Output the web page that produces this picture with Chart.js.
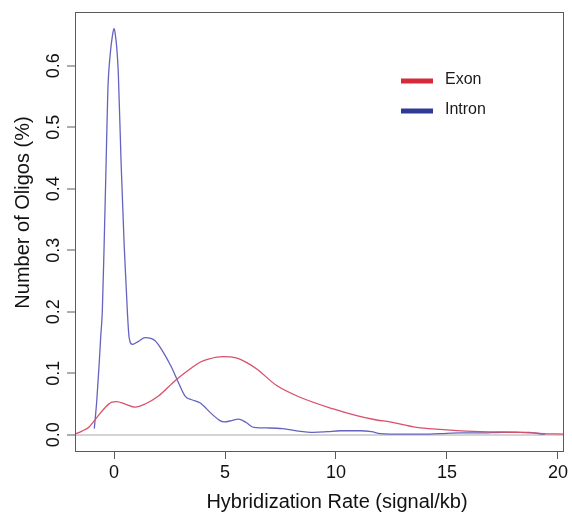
<!DOCTYPE html>
<html>
<head>
<meta charset="utf-8">
<script src="https://cdn.jsdelivr.net/npm/chart.js@4/dist/chart.umd.min.js"></script>
<style>
  html, body { margin: 0; padding: 0; background: #ffffff; }
  #wrap { width: 572px; height: 512px; position: relative; }
</style>
</head>
<body>
<div id="wrap"><canvas id="c" width="572" height="512"></canvas></div>
<script>
// ---- data ----
const seriesNames = ["Exon", "Intron"];

const exonX = [-1.76, -1.45, -1.15, -0.78, -0.41, -0.1, 0.12, 0.5, 0.95, 1.4, 2.0, 2.75, 3.5, 3.87, 4.25, 4.9, 5.5, 6.0, 6.43, 7.33, 8.38, 9.88, 10.93, 11.83, 12.43, 13.63, 15.0, 16.5, 18.3, 19.3, 20.23];
const exonY = [0.001, 0.006, 0.012, 0.028, 0.044, 0.053, 0.054, 0.050, 0.045, 0.050, 0.063, 0.088, 0.109, 0.118, 0.123, 0.127, 0.125, 0.117, 0.107, 0.080, 0.061, 0.042, 0.031, 0.024, 0.021, 0.012, 0.008, 0.005, 0.004, 0.002, 0.001];

const intronX = [-0.89, -0.78, -0.68, -0.6, -0.53, -0.45, -0.36, -0.28, -0.17, -0.07, 0, 0.06, 0.12, 0.19, 0.32, 0.46, 0.6, 0.68, 0.83, 1.1, 1.4, 1.85, 2.22, 2.6, 2.9, 3.2, 3.5, 3.87, 4.4, 4.77, 4.95, 5.3, 5.6, 5.95, 6.3, 7.0, 7.6, 8.3, 9.0, 9.6, 10.2, 11.1, 11.6, 12.0, 13.0, 13.8, 14.7, 15.6, 16.5, 17.5, 18.7, 19.3, 19.42];
const intronY = [0.010, 0.055, 0.110, 0.160, 0.200, 0.305, 0.439, 0.560, 0.620, 0.650, 0.661, 0.650, 0.630, 0.590, 0.439, 0.305, 0.200, 0.158, 0.147, 0.152, 0.158, 0.153, 0.134, 0.109, 0.085, 0.063, 0.057, 0.052, 0.034, 0.023, 0.021, 0.023, 0.0255, 0.020, 0.012, 0.011, 0.010, 0.006, 0.004, 0.005, 0.0065, 0.0065, 0.005, 0.002, 0.001, 0.001, 0.002, 0.003, 0.003, 0.004, 0.004, 0.001, 0.001];

const xTicks = [0, 5, 10, 15, 20];
const yTicks = [0, 0.1, 0.2, 0.3, 0.4, 0.5, 0.6];

const xTitle = "Hybridization Rate (signal/kb)";
const yTitle = "Number of Oligos (%)";

// ---- chart ----
const FONT = "'Liberation Sans', Arial, Helvetica, sans-serif";
const toPts = (xs, ys) => xs.map((x, i) => ({ x: x, y: ys[i] }));

const boxPlugin = {
  id: 'boxAndText',
  afterDraw(chart) {
    const ctx = chart.ctx;
    const ca = chart.chartArea;
    ctx.save();
    // box
    ctx.strokeStyle = '#5a5a5a';
    ctx.lineWidth = 1;
    ctx.strokeRect(Math.round(ca.left) + 0.5, Math.round(ca.top) + 0.5,
                   Math.round(ca.right - ca.left), Math.round(ca.bottom - ca.top));
    // axis titles
    ctx.fillStyle = '#111';
    ctx.font = '20px ' + FONT;
    ctx.textAlign = 'center';
    ctx.textBaseline = 'middle';
    ctx.fillText(xTitle, (ca.left + ca.right) / 2 + 18, ca.bottom + 51);
    ctx.translate(23, (ca.top + ca.bottom) / 2 - 19);
    ctx.rotate(-Math.PI / 2);
    ctx.fillText(yTitle, 0, 0);
    ctx.restore();

    // legend
    ctx.save();
    const colors = ['#d42a3a', '#2e3a96'];
    const ys = [ca.top + 69, ca.top + 99];
    ctx.font = '16px ' + FONT;
    ctx.textAlign = 'left';
    ctx.textBaseline = 'middle';
    seriesNames.forEach((name, i) => {
      ctx.strokeStyle = colors[i];
      ctx.lineWidth = 5;
      ctx.beginPath();
      ctx.moveTo(ca.left + 326, ys[i]);
      ctx.lineTo(ca.left + 358, ys[i]);
      ctx.stroke();
      ctx.fillStyle = '#1a1a1a';
      ctx.fillText(name, ca.left + 370, ys[i] - 1);
    });
    ctx.restore();
  }
};

new Chart(document.getElementById('c'), {
  type: 'line',
  data: {
    datasets: [
      {
        label: seriesNames[0],
        data: toPts(exonX, exonY),
        borderColor: '#d9506a',
        borderWidth: 1.3,
        pointRadius: 0,
        fill: false,
        cubicInterpolationMode: 'monotone'
      },
      {
        label: seriesNames[1],
        data: toPts(intronX, intronY),
        borderColor: '#6464c0',
        borderWidth: 1.3,
        pointRadius: 0,
        fill: false,
        cubicInterpolationMode: 'monotone'
      }
    ]
  },
  options: {
    responsive: false,
    animation: false,
    devicePixelRatio: 1,
    layout: { padding: { top: 12, right: 9, left: 0, bottom: 0 } },
    plugins: { legend: { display: false }, tooltip: { enabled: false } },
    scales: {
      x: {
        type: 'linear',
        min: -1.76,
        max: 20.23,
        afterBuildTicks: s => { s.ticks = xTicks.map(v => ({ value: v })); },
        afterFit: s => { s.height = 61; },
        border: { display: false },
        grid: { drawOnChartArea: false, drawTicks: true, tickLength: 8, tickColor: '#5a5a5a', tickWidth: 1 },
        ticks: {
          autoSkip: false,
          maxRotation: 0,
          padding: 3,
          color: '#111',
          font: { family: FONT, size: 18 },
          callback: v => String(v)
        }
      },
      y: {
        type: 'linear',
        min: -0.0264,
        max: 0.6876,
        afterBuildTicks: s => { s.ticks = yTicks.map(v => ({ value: v })); },
        afterFit: s => { s.width = 75; },
        border: { display: false },
        grid: {
          drawOnChartArea: true,
          drawTicks: true,
          tickLength: 8,
          tickColor: '#5a5a5a',
          tickWidth: 1,
          color: c => (c.tick && Math.abs(c.tick.value) < 1e-9) ? '#d4d4d4' : 'rgba(0,0,0,0)',
          lineWidth: c => (c.tick && Math.abs(c.tick.value) < 1e-9) ? 2 : 0
        },
        ticks: {
          autoSkip: false,
          minRotation: 90,
          maxRotation: 90,
          crossAlign: 'center',
          padding: 0,
          color: '#111',
          font: { family: FONT, size: 18 },
          callback: v => Number(v).toFixed(1)
        }
      }
    }
  },
  plugins: [boxPlugin]
});
</script>
</body>
</html>
